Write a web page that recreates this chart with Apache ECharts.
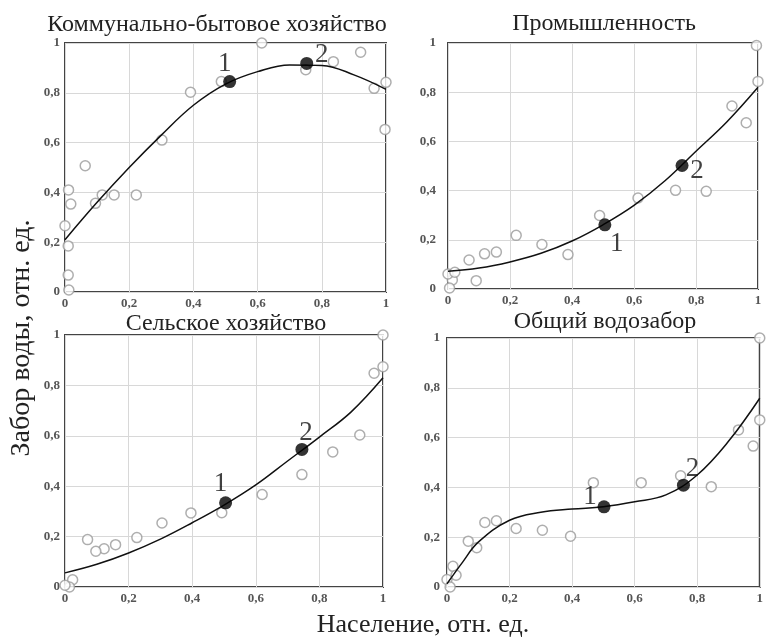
<!DOCTYPE html>
<html><head><meta charset="utf-8">
<script src="https://cdn.jsdelivr.net/npm/echarts@6/dist/echarts.min.js"></script>
<style>html,body{margin:0;padding:0;background:#fff}#c{width:766px;height:637px}</style>
</head><body><div id="c"></div>
<script>
const titles = ['Коммунально-бытовое хозяйство', 'Промышленность', 'Сельское хозяйство', 'Общий водозабор'];
const yAxisName = 'Забор воды, отн. ед.';
const xAxisName = 'Население, отн. ед.';
const tickLabels = {0: '0', 0.2: '0,2', 0.4: '0,4', 0.6: '0,6', 0.8: '0,8', 1: '1'};

// observed points (hollow circles)
const obs1 = [[0.613,1.0],[0.75,0.893],[0.836,0.925],[0.921,0.963],[0.963,0.818],[1.0,0.842],[0.997,0.653],[0.487,0.845],[0.391,0.802],[0.302,0.61],[0.222,0.39],[0.153,0.39],[0.116,0.39],[0.095,0.356],[0.063,0.507],[0.011,0.41],[0.018,0.353],[0.0,0.266],[0.01,0.185],[0.01,0.068],[0.012,0.008]];
const obs2 = [[0.995,0.99],[1.0,0.844],[0.916,0.744],[0.962,0.676],[0.734,0.401],[0.833,0.397],[0.613,0.37],[0.489,0.299],[0.387,0.14],[0.303,0.181],[0.22,0.218],[0.156,0.15],[0.118,0.143],[0.068,0.118],[0.091,0.034],[0.014,0.037],[0,0.061],[0.022,0.068],[0.005,0.004]];
const obs3 = [[1.0,1.0],[1.0,0.874],[0.972,0.848],[0.927,0.603],[0.842,0.536],[0.745,0.446],[0.62,0.367],[0.493,0.295],[0.396,0.294],[0.305,0.254],[0.226,0.196],[0.159,0.168],[0.123,0.152],[0.097,0.142],[0.071,0.188],[0.024,0.029],[0.014,0.0],[0,0.007]];
const obs4 = [[1,1.0],[1.0,0.671],[0.979,0.566],[0.932,0.631],[0.845,0.403],[0.747,0.447],[0.621,0.419],[0.468,0.419],[0.395,0.204],[0.305,0.228],[0.221,0.235],[0.158,0.266],[0.121,0.259],[0.095,0.158],[0.068,0.184],[0.019,0.083],[0.029,0.047],[0,0.03],[0.01,0.0]];

// fitted curves
const fitX = [0,0.1,0.2,0.3,0.4,0.5,0.6,0.7,0.8,0.9,1];
const fit1 = [0.21,0.36,0.50,0.63,0.75,0.835,0.885,0.912,0.91,0.872,0.814];
const fit2 = [0.072,0.085,0.11,0.145,0.195,0.261,0.34,0.44,0.56,0.68,0.82];
const fit3 = [0.056,0.09,0.135,0.19,0.255,0.325,0.405,0.50,0.595,0.695,0.83];
const fitX4 = [0,0.05,0.1,0.2,0.3,0.4,0.5,0.6,0.7,0.8,0.9,1];
const fit4 = [0.013,0.10,0.18,0.268,0.3,0.313,0.322,0.342,0.37,0.45,0.585,0.758];

// key points 1 and 2
const key1 = [[0.513,0.845],[0.753,0.918]];
const key2 = [[0.506,0.261],[0.755,0.502]];
const key3 = [[0.505,0.334],[0.745,0.546]];
const key4 = [[0.502,0.322],[0.756,0.409]];
const keyNames = ['1','2'];

const obsAll = [obs1, obs2, obs3, obs4];
const fitAll = [[fitX, fit1], [fitX, fit2], [fitX, fit3], [fitX4, fit4]];
const keyAll = [key1, key2, key3, key4];

const grids = [
  {left: 65, right: 380, top: 43, height: 249},
  {left: 448, right: 8, top: 43, height: 246},
  {left: 65, right: 383, top: 335, height: 252},
  {left: 447, right: 3, top: 338, height: 249}
];
const yMargins = [5, 12, 5, 7];
const labelOffsets = [
  [[-5,-18],[15,-9]],
  [[12,19],[15,5]],
  [[-5,-19],[4,-17]],
  [[-14,-10],[9,-16]]
];
const titlePos = [[217,25],[604,24],[226,324],[605,322]];

const serif = '"Liberation Serif", "DejaVu Serif", serif';
const fmt = v => tickLabels[Math.round(v*10)/10] !== undefined ? tickLabels[Math.round(v*10)/10] : String(v).replace('.', ',');

const option = {
  backgroundColor: '#fff',
  animation: false,
  grid: grids.map(g => Object.assign({show: true, borderColor: '#444', borderWidth: 2, backgroundColor: 'transparent'}, g)),
  xAxis: grids.map((g, i) => ({
    type: 'value', gridIndex: i, min: 0, max: 1, interval: 0.2,
    axisLine: {show: false}, axisTick: {show: false},
    splitLine: {lineStyle: {color: '#d8d8d8', width: 1}},
    axisLabel: {formatter: fmt, fontFamily: serif, fontSize: 13, fontWeight: 'bold', color: '#555', margin: 5}
  })),
  yAxis: grids.map((g, i) => ({
    type: 'value', gridIndex: i, min: 0, max: 1, interval: 0.2,
    axisLine: {show: false}, axisTick: {show: false},
    splitLine: {lineStyle: {color: '#d8d8d8', width: 1}},
    axisLabel: {formatter: fmt, fontFamily: serif, fontSize: 13, fontWeight: 'bold', color: '#555', margin: yMargins[i]}
  })),
  series: [],
  graphic: []
};

for (let i = 0; i < 4; i++) {
  option.series.push({
    type: 'scatter', xAxisIndex: i, yAxisIndex: i, clip: false, z: 2,
    symbol: 'circle', symbolSize: 10,
    itemStyle: {color: '#fff', borderColor: '#9a9a9a', borderWidth: 1.5},
    data: obsAll[i]
  });
  const [fx, fy] = fitAll[i];
  option.series.push({
    type: 'line', xAxisIndex: i, yAxisIndex: i, z: 3, smooth: 0.4,
    showSymbol: false, lineStyle: {color: '#111', width: 1.5},
    data: fx.map((x, k) => [x, fy[k]])
  });
  option.series.push({
    type: 'scatter', xAxisIndex: i, yAxisIndex: i, clip: false, z: 4,
    symbol: 'circle', symbolSize: 13,
    itemStyle: {color: '#000'},
    data: keyAll[i].map((p, k) => ({
      value: p,
      label: {show: true, formatter: keyNames[k], position: 'inside', offset: labelOffsets[i][k],
        fontFamily: serif, fontSize: 27, color: '#111'}
    }))
  });
  option.graphic.push({
    type: 'text', x: titlePos[i][0], y: titlePos[i][1],
    style: {text: titles[i], font: '24px ' + serif, fill: '#222', textAlign: 'center', textVerticalAlign: 'middle'}
  });
}
option.graphic.push({
  type: 'text', x: 22, y: 338, rotation: Math.PI / 2,
  style: {text: yAxisName, font: '28px ' + serif, fill: '#222', textAlign: 'center', textVerticalAlign: 'middle'}
});
option.graphic.push({
  type: 'text', x: 423, y: 625,
  style: {text: xAxisName, font: '26px ' + serif, fill: '#222', textAlign: 'center', textVerticalAlign: 'middle'}
});

const chart = echarts.init(document.getElementById('c'), null, {renderer: 'canvas'});
chart.setOption(option);
</script></body></html>
